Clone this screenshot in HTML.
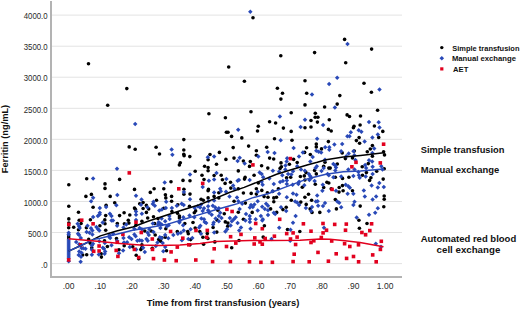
<!DOCTYPE html>
<html><head><meta charset="utf-8"><style>
html,body{margin:0;padding:0;background:#fff;overflow:hidden;}
svg{display:block;}
text{font-family:"Liberation Sans",sans-serif;fill:#1a1a1a;}
.tk{font-size:8.5px;fill:#2a2a2a;}
.yk{font-size:8.8px;}
.tt{font-size:9.8px;font-weight:bold;fill:#111;}
.lg{font-size:8.1px;font-weight:bold;fill:#111;}
</style></head><body>
<svg width="520" height="309" viewBox="0 0 520 309">
<rect x="52" y="263.1" width="350" height="1" fill="#e3e3e3"/>
<rect x="52" y="232" width="350" height="1" fill="#e3e3e3"/>
<rect x="52" y="201" width="350" height="1" fill="#e3e3e3"/>
<rect x="52" y="169.9" width="350" height="1" fill="#e3e3e3"/>
<rect x="52" y="138.8" width="350" height="1" fill="#e3e3e3"/>
<rect x="52" y="107.8" width="350" height="1" fill="#e3e3e3"/>
<rect x="52" y="76.7" width="350" height="1" fill="#e3e3e3"/>
<rect x="52" y="45.7" width="350" height="1" fill="#e3e3e3"/>
<rect x="52" y="14.6" width="350" height="1" fill="#e3e3e3"/>
<rect x="50" y="1" width="2" height="277" fill="#b3b3b3"/>
<rect x="50" y="276" width="352" height="2" fill="#b3b3b3"/>
<text x="47.6" y="267.8" class="tk yk" text-anchor="end" textLength="6.5" lengthAdjust="spacingAndGlyphs">.0</text>
<text x="47.6" y="236.7" class="tk yk" text-anchor="end" textLength="19.6" lengthAdjust="spacingAndGlyphs">500.0</text>
<text x="47.6" y="205.7" class="tk yk" text-anchor="end" textLength="23.9" lengthAdjust="spacingAndGlyphs">1000.0</text>
<text x="47.6" y="174.6" class="tk yk" text-anchor="end" textLength="23.9" lengthAdjust="spacingAndGlyphs">1500.0</text>
<text x="47.6" y="143.5" class="tk yk" text-anchor="end" textLength="23.9" lengthAdjust="spacingAndGlyphs">2000.0</text>
<text x="47.6" y="112.5" class="tk yk" text-anchor="end" textLength="23.9" lengthAdjust="spacingAndGlyphs">2500.0</text>
<text x="47.6" y="81.4" class="tk yk" text-anchor="end" textLength="23.9" lengthAdjust="spacingAndGlyphs">3000.0</text>
<text x="47.6" y="50.4" class="tk yk" text-anchor="end" textLength="23.9" lengthAdjust="spacingAndGlyphs">3500.0</text>
<text x="47.6" y="19.3" class="tk yk" text-anchor="end" textLength="23.9" lengthAdjust="spacingAndGlyphs">4000.0</text>
<text x="68.6" y="289" class="tk" text-anchor="middle">.00</text>
<text x="100.2" y="289" class="tk" text-anchor="middle">.10</text>
<text x="131.9" y="289" class="tk" text-anchor="middle">.20</text>
<text x="163.6" y="289" class="tk" text-anchor="middle">.30</text>
<text x="195.2" y="289" class="tk" text-anchor="middle">.40</text>
<text x="226.8" y="289" class="tk" text-anchor="middle">.50</text>
<text x="258.5" y="289" class="tk" text-anchor="middle">.60</text>
<text x="290.1" y="289" class="tk" text-anchor="middle">.70</text>
<text x="321.8" y="289" class="tk" text-anchor="middle">.80</text>
<text x="353.5" y="289" class="tk" text-anchor="middle">.90</text>
<text x="385.1" y="289" class="tk" text-anchor="middle">1.00</text>
<g fill="#000"><circle cx="253" cy="17.7" r="1.8"/><circle cx="280.8" cy="55.7" r="1.8"/><circle cx="314.6" cy="52.6" r="1.8"/><circle cx="344.6" cy="39.4" r="1.8"/><circle cx="371.6" cy="49.1" r="1.8"/><circle cx="88.5" cy="63.7" r="1.8"/><circle cx="126.8" cy="88.6" r="1.8"/><circle cx="107.7" cy="105.3" r="1.8"/><circle cx="228.7" cy="67" r="1.8"/><circle cx="244.4" cy="81.2" r="1.8"/><circle cx="208.9" cy="113.8" r="1.8"/><circle cx="251" cy="111.7" r="1.8"/><circle cx="305" cy="80.8" r="1.8"/><circle cx="277.4" cy="88.2" r="1.8"/><circle cx="282.5" cy="93.3" r="1.8"/><circle cx="280.9" cy="99.1" r="1.8"/><circle cx="306.7" cy="93.3" r="1.8"/><circle cx="339.8" cy="95.6" r="1.8"/><circle cx="305" cy="104.9" r="1.8"/><circle cx="324.6" cy="107" r="1.8"/><circle cx="337.2" cy="104.1" r="1.8"/><circle cx="291.2" cy="112.7" r="1.8"/><circle cx="315.3" cy="113.3" r="1.8"/><circle cx="345.7" cy="62.8" r="1.8"/><circle cx="364" cy="83.2" r="1.8"/><circle cx="371.4" cy="92.3" r="1.8"/><circle cx="377.6" cy="110.3" r="1.8"/><circle cx="129.2" cy="146.9" r="1.8"/><circle cx="183.8" cy="139.6" r="1.8"/><circle cx="135.2" cy="149.2" r="1.8"/><circle cx="156.1" cy="147.2" r="1.8"/><circle cx="159.5" cy="154" r="1.8"/><circle cx="183.8" cy="150" r="1.8"/><circle cx="183.8" cy="154.2" r="1.8"/><circle cx="184.1" cy="155.7" r="1.8"/><circle cx="189.8" cy="156.6" r="1.8"/><circle cx="225.4" cy="117.8" r="1.8"/><circle cx="269.6" cy="121.7" r="1.8"/><circle cx="275.6" cy="123" r="1.8"/><circle cx="258.3" cy="126.2" r="1.8"/><circle cx="257.5" cy="131" r="1.8"/><circle cx="226.4" cy="132.2" r="1.8"/><circle cx="228" cy="132.2" r="1.8"/><circle cx="231.6" cy="136.4" r="1.8"/><circle cx="241.8" cy="137.9" r="1.8"/><circle cx="274.5" cy="138.7" r="1.8"/><circle cx="233.2" cy="147.6" r="1.8"/><circle cx="248.6" cy="146.1" r="1.8"/><circle cx="256.4" cy="150.8" r="1.8"/><circle cx="266.7" cy="147.2" r="1.8"/><circle cx="219.4" cy="152.4" r="1.8"/><circle cx="210" cy="154.5" r="1.8"/><circle cx="256.4" cy="155.3" r="1.8"/><circle cx="234" cy="158.1" r="1.8"/><circle cx="269.6" cy="158.1" r="1.8"/><circle cx="225.9" cy="159.4" r="1.8"/><circle cx="273.7" cy="159" r="1.8"/><circle cx="315.2" cy="117.3" r="1.8"/><circle cx="317.9" cy="117.3" r="1.8"/><circle cx="347.1" cy="114.9" r="1.8"/><circle cx="349.5" cy="116.5" r="1.8"/><circle cx="311" cy="120.5" r="1.8"/><circle cx="317.4" cy="122.1" r="1.8"/><circle cx="329.3" cy="119.7" r="1.8"/><circle cx="283.4" cy="128.1" r="1.8"/><circle cx="305" cy="127.8" r="1.8"/><circle cx="311" cy="127" r="1.8"/><circle cx="291.2" cy="131.4" r="1.8"/><circle cx="328.4" cy="129.4" r="1.8"/><circle cx="331.2" cy="131" r="1.8"/><circle cx="354" cy="126.2" r="1.8"/><circle cx="292" cy="140.3" r="1.8"/><circle cx="328.4" cy="141.6" r="1.8"/><circle cx="316.3" cy="144" r="1.8"/><circle cx="316.3" cy="146.9" r="1.8"/><circle cx="306.6" cy="147.7" r="1.8"/><circle cx="321.5" cy="148.9" r="1.8"/><circle cx="304.6" cy="152.4" r="1.8"/><circle cx="342.2" cy="152.9" r="1.8"/><circle cx="310.3" cy="154.5" r="1.8"/><circle cx="293.6" cy="159.4" r="1.8"/><circle cx="345.4" cy="158.6" r="1.8"/><circle cx="360.5" cy="116" r="1.8"/><circle cx="360.1" cy="125" r="1.8"/><circle cx="353.4" cy="127.8" r="1.8"/><circle cx="374.4" cy="126" r="1.8"/><circle cx="382.8" cy="131.4" r="1.8"/><circle cx="378.7" cy="137.4" r="1.8"/><circle cx="359.1" cy="137.6" r="1.8"/><circle cx="356.4" cy="140.6" r="1.8"/><circle cx="359.6" cy="143.3" r="1.8"/><circle cx="372.4" cy="145.6" r="1.8"/><circle cx="370.3" cy="149" r="1.8"/><circle cx="367.3" cy="151.7" r="1.8"/><circle cx="383.6" cy="151.7" r="1.8"/><circle cx="384.5" cy="154.9" r="1.8"/><circle cx="372.4" cy="156.3" r="1.8"/><circle cx="354.3" cy="151" r="1.8"/><circle cx="352.5" cy="157.9" r="1.8"/><circle cx="86.7" cy="178.7" r="1.8"/><circle cx="68.8" cy="184.7" r="1.8"/><circle cx="105" cy="183.9" r="1.8"/><circle cx="105" cy="188.4" r="1.8"/><circle cx="119.6" cy="179.4" r="1.8"/><circle cx="154.1" cy="188.8" r="1.8"/><circle cx="134.5" cy="189.4" r="1.8"/><circle cx="163.8" cy="188.8" r="1.8"/><circle cx="180.3" cy="162.7" r="1.8"/><circle cx="179.4" cy="164.9" r="1.8"/><circle cx="208.1" cy="159.7" r="1.8"/><circle cx="216.5" cy="164.2" r="1.8"/><circle cx="204.6" cy="166.2" r="1.8"/><circle cx="208.1" cy="167.5" r="1.8"/><circle cx="208.1" cy="170.7" r="1.8"/><circle cx="195.2" cy="171.3" r="1.8"/><circle cx="202" cy="175.2" r="1.8"/><circle cx="214.1" cy="175.5" r="1.8"/><circle cx="204" cy="179.5" r="1.8"/><circle cx="183" cy="180.4" r="1.8"/><circle cx="190" cy="180.8" r="1.8"/><circle cx="171" cy="181.7" r="1.8"/><circle cx="208.5" cy="189.4" r="1.8"/><circle cx="183.9" cy="189.2" r="1.8"/><circle cx="243.4" cy="161" r="1.8"/><circle cx="250.3" cy="161.6" r="1.8"/><circle cx="249.5" cy="166.4" r="1.8"/><circle cx="261.6" cy="165.8" r="1.8"/><circle cx="267.8" cy="168.1" r="1.8"/><circle cx="238.3" cy="170.9" r="1.8"/><circle cx="221.2" cy="175.2" r="1.8"/><circle cx="222.4" cy="179.7" r="1.8"/><circle cx="225.1" cy="183.4" r="1.8"/><circle cx="230.5" cy="182.3" r="1.8"/><circle cx="245.1" cy="177.4" r="1.8"/><circle cx="244.5" cy="179.1" r="1.8"/><circle cx="254.1" cy="175.2" r="1.8"/><circle cx="258.3" cy="183" r="1.8"/><circle cx="230.8" cy="188.1" r="1.8"/><circle cx="238.3" cy="188.8" r="1.8"/><circle cx="256.4" cy="188.8" r="1.8"/><circle cx="281" cy="162.9" r="1.8"/><circle cx="289.4" cy="164.2" r="1.8"/><circle cx="297.2" cy="162.5" r="1.8"/><circle cx="325" cy="162.3" r="1.8"/><circle cx="281.4" cy="166.8" r="1.8"/><circle cx="280.1" cy="168.4" r="1.8"/><circle cx="323.7" cy="166.2" r="1.8"/><circle cx="314.6" cy="170.4" r="1.8"/><circle cx="306" cy="172.6" r="1.8"/><circle cx="316.3" cy="173.9" r="1.8"/><circle cx="286.6" cy="177.8" r="1.8"/><circle cx="290.7" cy="177.2" r="1.8"/><circle cx="300.4" cy="176.5" r="1.8"/><circle cx="304.3" cy="175.9" r="1.8"/><circle cx="304.9" cy="180" r="1.8"/><circle cx="315.3" cy="184.3" r="1.8"/><circle cx="326.9" cy="182.3" r="1.8"/><circle cx="328.8" cy="183" r="1.8"/><circle cx="302.3" cy="187.2" r="1.8"/><circle cx="323.7" cy="187.5" r="1.8"/><circle cx="328.8" cy="168.1" r="1.8"/><circle cx="278.4" cy="188.8" r="1.8"/><circle cx="337.3" cy="164" r="1.8"/><circle cx="330.2" cy="168.1" r="1.8"/><circle cx="362.2" cy="166.8" r="1.8"/><circle cx="368.3" cy="163.6" r="1.8"/><circle cx="384.2" cy="168.8" r="1.8"/><circle cx="335.3" cy="177.2" r="1.8"/><circle cx="342.5" cy="178.4" r="1.8"/><circle cx="348.9" cy="177.2" r="1.8"/><circle cx="362.5" cy="175.2" r="1.8"/><circle cx="366.4" cy="172.6" r="1.8"/><circle cx="376.7" cy="171.3" r="1.8"/><circle cx="370.9" cy="177.8" r="1.8"/><circle cx="369.6" cy="180.4" r="1.8"/><circle cx="383.2" cy="179.1" r="1.8"/><circle cx="342.5" cy="185.6" r="1.8"/><circle cx="339.2" cy="187.5" r="1.8"/><circle cx="331.2" cy="188.8" r="1.8"/><circle cx="85.9" cy="196.4" r="1.8"/><circle cx="91.4" cy="194.4" r="1.8"/><circle cx="110.2" cy="196.4" r="1.8"/><circle cx="68.8" cy="206.3" r="1.8"/><circle cx="93.1" cy="207.2" r="1.8"/><circle cx="106.1" cy="205.4" r="1.8"/><circle cx="78.5" cy="212.2" r="1.8"/><circle cx="105.7" cy="215.6" r="1.8"/><circle cx="68.8" cy="218.9" r="1.8"/><circle cx="68.8" cy="223.1" r="1.8"/><circle cx="79.2" cy="220.2" r="1.8"/><circle cx="81.1" cy="223.5" r="1.8"/><circle cx="90.4" cy="219.7" r="1.8"/><circle cx="104.8" cy="219.9" r="1.8"/><circle cx="105" cy="223.8" r="1.8"/><circle cx="150.3" cy="192.4" r="1.8"/><circle cx="114.7" cy="202.7" r="1.8"/><circle cx="139.7" cy="203.8" r="1.8"/><circle cx="143.1" cy="202.5" r="1.8"/><circle cx="146.4" cy="205.4" r="1.8"/><circle cx="148.7" cy="208.9" r="1.8"/><circle cx="156.5" cy="200.3" r="1.8"/><circle cx="134.5" cy="208" r="1.8"/><circle cx="135.4" cy="209.3" r="1.8"/><circle cx="143.1" cy="208.5" r="1.8"/><circle cx="146.4" cy="212.4" r="1.8"/><circle cx="163.8" cy="208.3" r="1.8"/><circle cx="124.1" cy="212.8" r="1.8"/><circle cx="119.6" cy="215.6" r="1.8"/><circle cx="129.8" cy="215" r="1.8"/><circle cx="147.7" cy="218" r="1.8"/><circle cx="153.5" cy="216.7" r="1.8"/><circle cx="128.3" cy="220.2" r="1.8"/><circle cx="141.9" cy="221.2" r="1.8"/><circle cx="117.3" cy="223.5" r="1.8"/><circle cx="124.4" cy="223.8" r="1.8"/><circle cx="128.9" cy="223.1" r="1.8"/><circle cx="158" cy="218.6" r="1.8"/><circle cx="183.9" cy="194.3" r="1.8"/><circle cx="190" cy="194.1" r="1.8"/><circle cx="165.4" cy="194.7" r="1.8"/><circle cx="165.8" cy="197.9" r="1.8"/><circle cx="171.6" cy="196.4" r="1.8"/><circle cx="171.6" cy="201.2" r="1.8"/><circle cx="208.1" cy="190.8" r="1.8"/><circle cx="218.8" cy="192.8" r="1.8"/><circle cx="208.1" cy="197.9" r="1.8"/><circle cx="201.1" cy="199.2" r="1.8"/><circle cx="203.3" cy="200.3" r="1.8"/><circle cx="214.1" cy="196.4" r="1.8"/><circle cx="218.8" cy="197.9" r="1.8"/><circle cx="177.8" cy="204.7" r="1.8"/><circle cx="189.5" cy="206.3" r="1.8"/><circle cx="171.9" cy="211.5" r="1.8"/><circle cx="195.6" cy="210.9" r="1.8"/><circle cx="177.5" cy="213.2" r="1.8"/><circle cx="179.4" cy="216" r="1.8"/><circle cx="179.4" cy="218" r="1.8"/><circle cx="194.3" cy="212.8" r="1.8"/><circle cx="193" cy="222.5" r="1.8"/><circle cx="216.9" cy="219.9" r="1.8"/><circle cx="243.4" cy="193" r="1.8"/><circle cx="251.2" cy="193.4" r="1.8"/><circle cx="256.4" cy="194.1" r="1.8"/><circle cx="261.8" cy="190.4" r="1.8"/><circle cx="267.4" cy="192.8" r="1.8"/><circle cx="264.1" cy="196.6" r="1.8"/><circle cx="268" cy="197.3" r="1.8"/><circle cx="273.8" cy="197.9" r="1.8"/><circle cx="273.8" cy="201.8" r="1.8"/><circle cx="234.1" cy="201.2" r="1.8"/><circle cx="245.4" cy="203.1" r="1.8"/><circle cx="270.6" cy="208.9" r="1.8"/><circle cx="217.8" cy="210.2" r="1.8"/><circle cx="224.3" cy="213.7" r="1.8"/><circle cx="238.3" cy="212.2" r="1.8"/><circle cx="252.2" cy="212.4" r="1.8"/><circle cx="243.4" cy="219.3" r="1.8"/><circle cx="225.3" cy="221.9" r="1.8"/><circle cx="227.9" cy="223.1" r="1.8"/><circle cx="272.8" cy="191.2" r="1.8"/><circle cx="276.5" cy="197.3" r="1.8"/><circle cx="291.3" cy="200.3" r="1.8"/><circle cx="308.5" cy="194.3" r="1.8"/><circle cx="304.9" cy="197.3" r="1.8"/><circle cx="300.8" cy="202.1" r="1.8"/><circle cx="306.2" cy="204.4" r="1.8"/><circle cx="311.6" cy="200.3" r="1.8"/><circle cx="310.1" cy="208.9" r="1.8"/><circle cx="312" cy="212.4" r="1.8"/><circle cx="319.8" cy="212.4" r="1.8"/><circle cx="282.9" cy="209.6" r="1.8"/><circle cx="286.2" cy="207.2" r="1.8"/><circle cx="276.7" cy="212.4" r="1.8"/><circle cx="339" cy="192.1" r="1.8"/><circle cx="343.1" cy="190.8" r="1.8"/><circle cx="352.5" cy="190.8" r="1.8"/><circle cx="384.2" cy="196" r="1.8"/><circle cx="384.2" cy="199.2" r="1.8"/><circle cx="335.3" cy="199.5" r="1.8"/><circle cx="360.2" cy="206.1" r="1.8"/><circle cx="336.4" cy="208.9" r="1.8"/><circle cx="383.8" cy="206.7" r="1.8"/><circle cx="358.9" cy="220.2" r="1.8"/><circle cx="367" cy="223.5" r="1.8"/><circle cx="68.7" cy="227.8" r="1.8"/><circle cx="68.7" cy="236" r="1.8"/><circle cx="68.7" cy="238" r="1.8"/><circle cx="73.7" cy="227.2" r="1.8"/><circle cx="78.5" cy="229.8" r="1.8"/><circle cx="86.4" cy="227.8" r="1.8"/><circle cx="99.9" cy="225.8" r="1.8"/><circle cx="105.7" cy="230.2" r="1.8"/><circle cx="88.7" cy="239.4" r="1.8"/><circle cx="90.1" cy="243.1" r="1.8"/><circle cx="91.8" cy="247.7" r="1.8"/><circle cx="104.5" cy="240.8" r="1.8"/><circle cx="107.4" cy="246.5" r="1.8"/><circle cx="82.7" cy="255" r="1.8"/><circle cx="86.7" cy="254.8" r="1.8"/><circle cx="101.2" cy="253.8" r="1.8"/><circle cx="101.4" cy="257.1" r="1.8"/><circle cx="119" cy="249.8" r="1.8"/><circle cx="124.2" cy="245.8" r="1.8"/><circle cx="135.9" cy="225.2" r="1.8"/><circle cx="144.8" cy="231" r="1.8"/><circle cx="151.2" cy="231" r="1.8"/><circle cx="154.6" cy="223.5" r="1.8"/><circle cx="155.2" cy="235" r="1.8"/><circle cx="158.7" cy="239.6" r="1.8"/><circle cx="116.5" cy="238.5" r="1.8"/><circle cx="141.9" cy="244.8" r="1.8"/><circle cx="152.3" cy="248.3" r="1.8"/><circle cx="132.7" cy="246.7" r="1.8"/><circle cx="136.2" cy="255.2" r="1.8"/><circle cx="138.7" cy="258.8" r="1.8"/><circle cx="140.8" cy="249.6" r="1.8"/><circle cx="141.7" cy="247.9" r="1.8"/><circle cx="165.8" cy="228.7" r="1.8"/><circle cx="184.8" cy="223.5" r="1.8"/><circle cx="195.2" cy="228.1" r="1.8"/><circle cx="199.8" cy="231.5" r="1.8"/><circle cx="202.9" cy="237.3" r="1.8"/><circle cx="207.3" cy="233.6" r="1.8"/><circle cx="207.9" cy="238.5" r="1.8"/><circle cx="213.1" cy="227.5" r="1.8"/><circle cx="216.8" cy="232.1" r="1.8"/><circle cx="177.3" cy="231.5" r="1.8"/><circle cx="187.7" cy="231.5" r="1.8"/><circle cx="188.3" cy="233.8" r="1.8"/><circle cx="161.7" cy="237.9" r="1.8"/><circle cx="165.2" cy="237.3" r="1.8"/><circle cx="190.6" cy="239.6" r="1.8"/><circle cx="160.6" cy="241.3" r="1.8"/><circle cx="190" cy="244.8" r="1.8"/><circle cx="203.6" cy="244.2" r="1.8"/><circle cx="214.8" cy="241.9" r="1.8"/><circle cx="227.7" cy="226.3" r="1.8"/><circle cx="264.4" cy="225.8" r="1.8"/><circle cx="239" cy="240.5" r="1.8"/><circle cx="231.7" cy="247.7" r="1.8"/><circle cx="263.2" cy="237.1" r="1.8"/><circle cx="287.5" cy="229.5" r="1.8"/><circle cx="299.8" cy="231.5" r="1.8"/><circle cx="359.4" cy="228.3" r="1.8"/><circle cx="166.5" cy="250.8" r="1.8"/></g>
<g fill="#2949b8"><path d="M250.3 9.6l2.25 2.25l-2.25 2.25l-2.25-2.25z"/><path d="M347.5 41.8l2.25 2.25l-2.25 2.25l-2.25-2.25z"/><path d="M337.2 75.5l2.25 2.25l-2.25 2.25l-2.25-2.25z"/><path d="M329.1 81.8l2.25 2.25l-2.25 2.25l-2.25-2.25z"/><path d="M312 92.2l2.25 2.25l-2.25 2.25l-2.25-2.25z"/><path d="M334.9 105.2l2.25 2.25l-2.25 2.25l-2.25-2.25z"/><path d="M379.5 87.3l2.25 2.25l-2.25 2.25l-2.25-2.25z"/><path d="M135.2 121.8l2.25 2.25l-2.25 2.25l-2.25-2.25z"/><path d="M171.6 147.2l2.25 2.25l-2.25 2.25l-2.25-2.25z"/><path d="M172.4 152.4l2.25 2.25l-2.25 2.25l-2.25-2.25z"/><path d="M238.2 127.6l2.25 2.25l-2.25 2.25l-2.25-2.25z"/><path d="M267.7 149.8l2.25 2.25l-2.25 2.25l-2.25-2.25z"/><path d="M274.5 150.7l2.25 2.25l-2.25 2.25l-2.25-2.25z"/><path d="M207.8 155.1l2.25 2.25l-2.25 2.25l-2.25-2.25z"/><path d="M214.1 154.3l2.25 2.25l-2.25 2.25l-2.25-2.25z"/><path d="M258.3 154.3l2.25 2.25l-2.25 2.25l-2.25-2.25z"/><path d="M239.7 155.6l2.25 2.25l-2.25 2.25l-2.25-2.25z"/><path d="M279.9 114.2l2.25 2.25l-2.25 2.25l-2.25-2.25z"/><path d="M305 117.5l2.25 2.25l-2.25 2.25l-2.25-2.25z"/><path d="M323.1 122.7l2.25 2.25l-2.25 2.25l-2.25-2.25z"/><path d="M300.6 124.8l2.25 2.25l-2.25 2.25l-2.25-2.25z"/><path d="M350.8 130.1l2.25 2.25l-2.25 2.25l-2.25-2.25z"/><path d="M347.4 133.9l2.25 2.25l-2.25 2.25l-2.25-2.25z"/><path d="M349.5 133.9l2.25 2.25l-2.25 2.25l-2.25-2.25z"/><path d="M280.7 138.1l2.25 2.25l-2.25 2.25l-2.25-2.25z"/><path d="M317.1 136.4l2.25 2.25l-2.25 2.25l-2.25-2.25z"/><path d="M334.4 142.2l2.25 2.25l-2.25 2.25l-2.25-2.25z"/><path d="M342.2 141.8l2.25 2.25l-2.25 2.25l-2.25-2.25z"/><path d="M293.6 145.8l2.25 2.25l-2.25 2.25l-2.25-2.25z"/><path d="M325.2 144.9l2.25 2.25l-2.25 2.25l-2.25-2.25z"/><path d="M329.3 144.9l2.25 2.25l-2.25 2.25l-2.25-2.25z"/><path d="M329.3 147.4l2.25 2.25l-2.25 2.25l-2.25-2.25z"/><path d="M316.3 148.6l2.25 2.25l-2.25 2.25l-2.25-2.25z"/><path d="M318.7 149.6l2.25 2.25l-2.25 2.25l-2.25-2.25z"/><path d="M321.2 150.3l2.25 2.25l-2.25 2.25l-2.25-2.25z"/><path d="M302.9 150.2l2.25 2.25l-2.25 2.25l-2.25-2.25z"/><path d="M341.1 149.1l2.25 2.25l-2.25 2.25l-2.25-2.25z"/><path d="M348.7 151.2l2.25 2.25l-2.25 2.25l-2.25-2.25z"/><path d="M353.5 149.1l2.25 2.25l-2.25 2.25l-2.25-2.25z"/><path d="M299 154.2l2.25 2.25l-2.25 2.25l-2.25-2.25z"/><path d="M312.7 154.8l2.25 2.25l-2.25 2.25l-2.25-2.25z"/><path d="M287.1 156.1l2.25 2.25l-2.25 2.25l-2.25-2.25z"/><path d="M346.3 153.9l2.25 2.25l-2.25 2.25l-2.25-2.25z"/><path d="M354.4 153.1l2.25 2.25l-2.25 2.25l-2.25-2.25z"/><path d="M369 119.7l2.25 2.25l-2.25 2.25l-2.25-2.25z"/><path d="M378.7 120l2.25 2.25l-2.25 2.25l-2.25-2.25z"/><path d="M379.5 125.3l2.25 2.25l-2.25 2.25l-2.25-2.25z"/><path d="M358.7 128.1l2.25 2.25l-2.25 2.25l-2.25-2.25z"/><path d="M361.4 129.4l2.25 2.25l-2.25 2.25l-2.25-2.25z"/><path d="M377.8 132.2l2.25 2.25l-2.25 2.25l-2.25-2.25z"/><path d="M372.4 135.3l2.25 2.25l-2.25 2.25l-2.25-2.25z"/><path d="M364.6 139.2l2.25 2.25l-2.25 2.25l-2.25-2.25z"/><path d="M374.2 146.3l2.25 2.25l-2.25 2.25l-2.25-2.25z"/><path d="M372.4 150.8l2.25 2.25l-2.25 2.25l-2.25-2.25z"/><path d="M93.1 176.2l2.25 2.25l-2.25 2.25l-2.25-2.25z"/><path d="M117 166.6l2.25 2.25l-2.25 2.25l-2.25-2.25z"/><path d="M164.7 180.3l2.25 2.25l-2.25 2.25l-2.25-2.25z"/><path d="M190 172.3l2.25 2.25l-2.25 2.25l-2.25-2.25z"/><path d="M216.5 170.8l2.25 2.25l-2.25 2.25l-2.25-2.25z"/><path d="M214.1 177.2l2.25 2.25l-2.25 2.25l-2.25-2.25z"/><path d="M208.9 178.6l2.25 2.25l-2.25 2.25l-2.25-2.25z"/><path d="M202.7 184.8l2.25 2.25l-2.25 2.25l-2.25-2.25z"/><path d="M237.6 158.8l2.25 2.25l-2.25 2.25l-2.25-2.25z"/><path d="M244.7 161.3l2.25 2.25l-2.25 2.25l-2.25-2.25z"/><path d="M272.9 168.4l2.25 2.25l-2.25 2.25l-2.25-2.25z"/><path d="M226.4 176.8l2.25 2.25l-2.25 2.25l-2.25-2.25z"/><path d="M238.9 177.8l2.25 2.25l-2.25 2.25l-2.25-2.25z"/><path d="M237.6 178.6l2.25 2.25l-2.25 2.25l-2.25-2.25z"/><path d="M249.7 177.8l2.25 2.25l-2.25 2.25l-2.25-2.25z"/><path d="M259.6 170.3l2.25 2.25l-2.25 2.25l-2.25-2.25z"/><path d="M261.6 171.7l2.25 2.25l-2.25 2.25l-2.25-2.25z"/><path d="M263.2 174.9l2.25 2.25l-2.25 2.25l-2.25-2.25z"/><path d="M269.3 176.2l2.25 2.25l-2.25 2.25l-2.25-2.25z"/><path d="M261.6 179.4l2.25 2.25l-2.25 2.25l-2.25-2.25z"/><path d="M262.6 182.4l2.25 2.25l-2.25 2.25l-2.25-2.25z"/><path d="M273.8 181.7l2.25 2.25l-2.25 2.25l-2.25-2.25z"/><path d="M233.1 183.3l2.25 2.25l-2.25 2.25l-2.25-2.25z"/><path d="M234.4 186.6l2.25 2.25l-2.25 2.25l-2.25-2.25z"/><path d="M220.2 186.6l2.25 2.25l-2.25 2.25l-2.25-2.25z"/><path d="M286.6 159.2l2.25 2.25l-2.25 2.25l-2.25-2.25z"/><path d="M310.3 159.3l2.25 2.25l-2.25 2.25l-2.25-2.25z"/><path d="M325 157.4l2.25 2.25l-2.25 2.25l-2.25-2.25z"/><path d="M285.5 163.2l2.25 2.25l-2.25 2.25l-2.25-2.25z"/><path d="M297.2 163.9l2.25 2.25l-2.25 2.25l-2.25-2.25z"/><path d="M285.3 167.2l2.25 2.25l-2.25 2.25l-2.25-2.25z"/><path d="M316.8 163.9l2.25 2.25l-2.25 2.25l-2.25-2.25z"/><path d="M315.5 165.8l2.25 2.25l-2.25 2.25l-2.25-2.25z"/><path d="M323.7 165.8l2.25 2.25l-2.25 2.25l-2.25-2.25z"/><path d="M321.5 168.7l2.25 2.25l-2.25 2.25l-2.25-2.25z"/><path d="M279.1 169.4l2.25 2.25l-2.25 2.25l-2.25-2.25z"/><path d="M301 167.2l2.25 2.25l-2.25 2.25l-2.25-2.25z"/><path d="M304.9 168.4l2.25 2.25l-2.25 2.25l-2.25-2.25z"/><path d="M293 169.1l2.25 2.25l-2.25 2.25l-2.25-2.25z"/><path d="M288.1 171.7l2.25 2.25l-2.25 2.25l-2.25-2.25z"/><path d="M291.3 172.3l2.25 2.25l-2.25 2.25l-2.25-2.25z"/><path d="M282.3 172.9l2.25 2.25l-2.25 2.25l-2.25-2.25z"/><path d="M308.8 171.7l2.25 2.25l-2.25 2.25l-2.25-2.25z"/><path d="M310.1 173.7l2.25 2.25l-2.25 2.25l-2.25-2.25z"/><path d="M311.4 175.6l2.25 2.25l-2.25 2.25l-2.25-2.25z"/><path d="M309.4 177.8l2.25 2.25l-2.25 2.25l-2.25-2.25z"/><path d="M286.8 178.2l2.25 2.25l-2.25 2.25l-2.25-2.25z"/><path d="M282.9 178.8l2.25 2.25l-2.25 2.25l-2.25-2.25z"/><path d="M280.1 179.8l2.25 2.25l-2.25 2.25l-2.25-2.25z"/><path d="M299.1 179.4l2.25 2.25l-2.25 2.25l-2.25-2.25z"/><path d="M314.6 178.8l2.25 2.25l-2.25 2.25l-2.25-2.25z"/><path d="M286.8 181.7l2.25 2.25l-2.25 2.25l-2.25-2.25z"/><path d="M292.6 182.4l2.25 2.25l-2.25 2.25l-2.25-2.25z"/><path d="M298.4 181.7l2.25 2.25l-2.25 2.25l-2.25-2.25z"/><path d="M304.3 182.9l2.25 2.25l-2.25 2.25l-2.25-2.25z"/><path d="M322.8 182.4l2.25 2.25l-2.25 2.25l-2.25-2.25z"/><path d="M328.8 172.9l2.25 2.25l-2.25 2.25l-2.25-2.25z"/><path d="M355.4 157.8l2.25 2.25l-2.25 2.25l-2.25-2.25z"/><path d="M333.4 161.8l2.25 2.25l-2.25 2.25l-2.25-2.25z"/><path d="M335.3 163.2l2.25 2.25l-2.25 2.25l-2.25-2.25z"/><path d="M336 165.2l2.25 2.25l-2.25 2.25l-2.25-2.25z"/><path d="M335.3 168.2l2.25 2.25l-2.25 2.25l-2.25-2.25z"/><path d="M348.3 167.2l2.25 2.25l-2.25 2.25l-2.25-2.25z"/><path d="M354.5 167.2l2.25 2.25l-2.25 2.25l-2.25-2.25z"/><path d="M365.1 162.7l2.25 2.25l-2.25 2.25l-2.25-2.25z"/><path d="M369 158.1l2.25 2.25l-2.25 2.25l-2.25-2.25z"/><path d="M372.2 159.3l2.25 2.25l-2.25 2.25l-2.25-2.25z"/><path d="M372.6 164.6l2.25 2.25l-2.25 2.25l-2.25-2.25z"/><path d="M366.1 165.8l2.25 2.25l-2.25 2.25l-2.25-2.25z"/><path d="M381.3 163.9l2.25 2.25l-2.25 2.25l-2.25-2.25z"/><path d="M382.5 167.2l2.25 2.25l-2.25 2.25l-2.25-2.25z"/><path d="M327.6 171.7l2.25 2.25l-2.25 2.25l-2.25-2.25z"/><path d="M333.4 174.9l2.25 2.25l-2.25 2.25l-2.25-2.25z"/><path d="M341.2 174.2l2.25 2.25l-2.25 2.25l-2.25-2.25z"/><path d="M353.4 173.8l2.25 2.25l-2.25 2.25l-2.25-2.25z"/><path d="M358.4 169.8l2.25 2.25l-2.25 2.25l-2.25-2.25z"/><path d="M358.9 172.9l2.25 2.25l-2.25 2.25l-2.25-2.25z"/><path d="M359.7 175.6l2.25 2.25l-2.25 2.25l-2.25-2.25z"/><path d="M365.7 174.2l2.25 2.25l-2.25 2.25l-2.25-2.25z"/><path d="M372.6 171.7l2.25 2.25l-2.25 2.25l-2.25-2.25z"/><path d="M379.3 180.8l2.25 2.25l-2.25 2.25l-2.25-2.25z"/><path d="M371.6 183.3l2.25 2.25l-2.25 2.25l-2.25-2.25z"/><path d="M377.8 185.2l2.25 2.25l-2.25 2.25l-2.25-2.25z"/><path d="M345.7 182.4l2.25 2.25l-2.25 2.25l-2.25-2.25z"/><path d="M348.3 183.9l2.25 2.25l-2.25 2.25l-2.25-2.25z"/><path d="M349.8 185.6l2.25 2.25l-2.25 2.25l-2.25-2.25z"/><path d="M93.1 195.4l2.25 2.25l-2.25 2.25l-2.25-2.25z"/><path d="M91.1 198.9l2.25 2.25l-2.25 2.25l-2.25-2.25z"/><path d="M99.8 205.8l2.25 2.25l-2.25 2.25l-2.25-2.25z"/><path d="M106.1 204.8l2.25 2.25l-2.25 2.25l-2.25-2.25z"/><path d="M99.8 210.6l2.25 2.25l-2.25 2.25l-2.25-2.25z"/><path d="M99.6 212.2l2.25 2.25l-2.25 2.25l-2.25-2.25z"/><path d="M97.9 213.8l2.25 2.25l-2.25 2.25l-2.25-2.25z"/><path d="M93.1 214.8l2.25 2.25l-2.25 2.25l-2.25-2.25z"/><path d="M109.9 211.4l2.25 2.25l-2.25 2.25l-2.25-2.25z"/><path d="M111.5 213.8l2.25 2.25l-2.25 2.25l-2.25-2.25z"/><path d="M77.6 221.6l2.25 2.25l-2.25 2.25l-2.25-2.25z"/><path d="M102.7 220.2l2.25 2.25l-2.25 2.25l-2.25-2.25z"/><path d="M111.5 218.3l2.25 2.25l-2.25 2.25l-2.25-2.25z"/><path d="M117.3 192.8l2.25 2.25l-2.25 2.25l-2.25-2.25z"/><path d="M136 193.4l2.25 2.25l-2.25 2.25l-2.25-2.25z"/><path d="M141.5 197.2l2.25 2.25l-2.25 2.25l-2.25-2.25z"/><path d="M116.4 203.1l2.25 2.25l-2.25 2.25l-2.25-2.25z"/><path d="M141 202.4l2.25 2.25l-2.25 2.25l-2.25-2.25z"/><path d="M147.4 204.9l2.25 2.25l-2.25 2.25l-2.25-2.25z"/><path d="M153.5 199.6l2.25 2.25l-2.25 2.25l-2.25-2.25z"/><path d="M152.8 201.8l2.25 2.25l-2.25 2.25l-2.25-2.25z"/><path d="M154.8 203.4l2.25 2.25l-2.25 2.25l-2.25-2.25z"/><path d="M136 209.2l2.25 2.25l-2.25 2.25l-2.25-2.25z"/><path d="M136 212.4l2.25 2.25l-2.25 2.25l-2.25-2.25z"/><path d="M141.9 211.4l2.25 2.25l-2.25 2.25l-2.25-2.25z"/><path d="M159.3 208.3l2.25 2.25l-2.25 2.25l-2.25-2.25z"/><path d="M161.9 207.3l2.25 2.25l-2.25 2.25l-2.25-2.25z"/><path d="M136 217.7l2.25 2.25l-2.25 2.25l-2.25-2.25z"/><path d="M113 218.3l2.25 2.25l-2.25 2.25l-2.25-2.25z"/><path d="M152.8 221.2l2.25 2.25l-2.25 2.25l-2.25-2.25z"/><path d="M160 221.2l2.25 2.25l-2.25 2.25l-2.25-2.25z"/><path d="M183.9 189.8l2.25 2.25l-2.25 2.25l-2.25-2.25z"/><path d="M166.2 199.6l2.25 2.25l-2.25 2.25l-2.25-2.25z"/><path d="M190 196.9l2.25 2.25l-2.25 2.25l-2.25-2.25z"/><path d="M214.1 190.2l2.25 2.25l-2.25 2.25l-2.25-2.25z"/><path d="M208.5 198.9l2.25 2.25l-2.25 2.25l-2.25-2.25z"/><path d="M214.1 198.2l2.25 2.25l-2.25 2.25l-2.25-2.25z"/><path d="M181.7 201.6l2.25 2.25l-2.25 2.25l-2.25-2.25z"/><path d="M183.7 202.8l2.25 2.25l-2.25 2.25l-2.25-2.25z"/><path d="M176.8 203.4l2.25 2.25l-2.25 2.25l-2.25-2.25z"/><path d="M165.8 205.8l2.25 2.25l-2.25 2.25l-2.25-2.25z"/><path d="M171.9 205.8l2.25 2.25l-2.25 2.25l-2.25-2.25z"/><path d="M194.7 205.8l2.25 2.25l-2.25 2.25l-2.25-2.25z"/><path d="M197.9 204.1l2.25 2.25l-2.25 2.25l-2.25-2.25z"/><path d="M201.1 202.2l2.25 2.25l-2.25 2.25l-2.25-2.25z"/><path d="M200.1 205.3l2.25 2.25l-2.25 2.25l-2.25-2.25z"/><path d="M204 206.1l2.25 2.25l-2.25 2.25l-2.25-2.25z"/><path d="M202.7 208.7l2.25 2.25l-2.25 2.25l-2.25-2.25z"/><path d="M208.1 204.1l2.25 2.25l-2.25 2.25l-2.25-2.25z"/><path d="M208.1 207.9l2.25 2.25l-2.25 2.25l-2.25-2.25z"/><path d="M212.8 203.4l2.25 2.25l-2.25 2.25l-2.25-2.25z"/><path d="M215.3 205.3l2.25 2.25l-2.25 2.25l-2.25-2.25z"/><path d="M218.8 206.1l2.25 2.25l-2.25 2.25l-2.25-2.25z"/><path d="M209.1 210.6l2.25 2.25l-2.25 2.25l-2.25-2.25z"/><path d="M211.7 212.4l2.25 2.25l-2.25 2.25l-2.25-2.25z"/><path d="M169.3 213.8l2.25 2.25l-2.25 2.25l-2.25-2.25z"/><path d="M169.7 216.7l2.25 2.25l-2.25 2.25l-2.25-2.25z"/><path d="M189.5 213.2l2.25 2.25l-2.25 2.25l-2.25-2.25z"/><path d="M194.3 215.1l2.25 2.25l-2.25 2.25l-2.25-2.25z"/><path d="M183.3 215.1l2.25 2.25l-2.25 2.25l-2.25-2.25z"/><path d="M161.6 216.3l2.25 2.25l-2.25 2.25l-2.25-2.25z"/><path d="M165.2 218.9l2.25 2.25l-2.25 2.25l-2.25-2.25z"/><path d="M179.4 220.2l2.25 2.25l-2.25 2.25l-2.25-2.25z"/><path d="M201.4 216.3l2.25 2.25l-2.25 2.25l-2.25-2.25z"/><path d="M204.6 219.7l2.25 2.25l-2.25 2.25l-2.25-2.25z"/><path d="M204 217.1l2.25 2.25l-2.25 2.25l-2.25-2.25z"/><path d="M215.6 216.3l2.25 2.25l-2.25 2.25l-2.25-2.25z"/><path d="M218.8 218.9l2.25 2.25l-2.25 2.25l-2.25-2.25z"/><path d="M213.7 220.2l2.25 2.25l-2.25 2.25l-2.25-2.25z"/><path d="M220.8 188.9l2.25 2.25l-2.25 2.25l-2.25-2.25z"/><path d="M226 189.4l2.25 2.25l-2.25 2.25l-2.25-2.25z"/><path d="M257.7 189.4l2.25 2.25l-2.25 2.25l-2.25-2.25z"/><path d="M272.5 188.9l2.25 2.25l-2.25 2.25l-2.25-2.25z"/><path d="M229.5 194.3l2.25 2.25l-2.25 2.25l-2.25-2.25z"/><path d="M237 195.2l2.25 2.25l-2.25 2.25l-2.25-2.25z"/><path d="M238.3 198.9l2.25 2.25l-2.25 2.25l-2.25-2.25z"/><path d="M242.2 201.6l2.25 2.25l-2.25 2.25l-2.25-2.25z"/><path d="M257.7 198.9l2.25 2.25l-2.25 2.25l-2.25-2.25z"/><path d="M251 202.8l2.25 2.25l-2.25 2.25l-2.25-2.25z"/><path d="M254.4 202.2l2.25 2.25l-2.25 2.25l-2.25-2.25z"/><path d="M249.9 205.3l2.25 2.25l-2.25 2.25l-2.25-2.25z"/><path d="M252.8 204.8l2.25 2.25l-2.25 2.25l-2.25-2.25z"/><path d="M266.1 201.6l2.25 2.25l-2.25 2.25l-2.25-2.25z"/><path d="M268 203.4l2.25 2.25l-2.25 2.25l-2.25-2.25z"/><path d="M262.2 204.4l2.25 2.25l-2.25 2.25l-2.25-2.25z"/><path d="M264.8 206.7l2.25 2.25l-2.25 2.25l-2.25-2.25z"/><path d="M268 207.9l2.25 2.25l-2.25 2.25l-2.25-2.25z"/><path d="M273.8 210.6l2.25 2.25l-2.25 2.25l-2.25-2.25z"/><path d="M268 212.8l2.25 2.25l-2.25 2.25l-2.25-2.25z"/><path d="M220.2 210.6l2.25 2.25l-2.25 2.25l-2.25-2.25z"/><path d="M239.6 206.7l2.25 2.25l-2.25 2.25l-2.25-2.25z"/><path d="M257.7 208.3l2.25 2.25l-2.25 2.25l-2.25-2.25z"/><path d="M246 211.8l2.25 2.25l-2.25 2.25l-2.25-2.25z"/><path d="M249.7 213.8l2.25 2.25l-2.25 2.25l-2.25-2.25z"/><path d="M249.9 216.7l2.25 2.25l-2.25 2.25l-2.25-2.25z"/><path d="M260.9 213.8l2.25 2.25l-2.25 2.25l-2.25-2.25z"/><path d="M262.8 217.1l2.25 2.25l-2.25 2.25l-2.25-2.25z"/><path d="M255.7 217.1l2.25 2.25l-2.25 2.25l-2.25-2.25z"/><path d="M218.9 213.8l2.25 2.25l-2.25 2.25l-2.25-2.25z"/><path d="M221.5 215.8l2.25 2.25l-2.25 2.25l-2.25-2.25z"/><path d="M229.9 215.8l2.25 2.25l-2.25 2.25l-2.25-2.25z"/><path d="M235.7 215.1l2.25 2.25l-2.25 2.25l-2.25-2.25z"/><path d="M233.8 217.1l2.25 2.25l-2.25 2.25l-2.25-2.25z"/><path d="M231.8 218.9l2.25 2.25l-2.25 2.25l-2.25-2.25z"/><path d="M245.4 218.3l2.25 2.25l-2.25 2.25l-2.25-2.25z"/><path d="M249.9 219.7l2.25 2.25l-2.25 2.25l-2.25-2.25z"/><path d="M237.6 220.8l2.25 2.25l-2.25 2.25l-2.25-2.25z"/><path d="M279.1 191.6l2.25 2.25l-2.25 2.25l-2.25-2.25z"/><path d="M286.8 195.1l2.25 2.25l-2.25 2.25l-2.25-2.25z"/><path d="M293 191.2l2.25 2.25l-2.25 2.25l-2.25-2.25z"/><path d="M296.5 192.4l2.25 2.25l-2.25 2.25l-2.25-2.25z"/><path d="M295.2 199.3l2.25 2.25l-2.25 2.25l-2.25-2.25z"/><path d="M297.2 200.2l2.25 2.25l-2.25 2.25l-2.25-2.25z"/><path d="M299.1 202.8l2.25 2.25l-2.25 2.25l-2.25-2.25z"/><path d="M317.2 193.3l2.25 2.25l-2.25 2.25l-2.25-2.25z"/><path d="M322.4 188.6l2.25 2.25l-2.25 2.25l-2.25-2.25z"/><path d="M315.9 199.3l2.25 2.25l-2.25 2.25l-2.25-2.25z"/><path d="M317.6 198.9l2.25 2.25l-2.25 2.25l-2.25-2.25z"/><path d="M318.1 203.4l2.25 2.25l-2.25 2.25l-2.25-2.25z"/><path d="M312 204.8l2.25 2.25l-2.25 2.25l-2.25-2.25z"/><path d="M305.9 205.8l2.25 2.25l-2.25 2.25l-2.25-2.25z"/><path d="M311.1 208.7l2.25 2.25l-2.25 2.25l-2.25-2.25z"/><path d="M323 203.7l2.25 2.25l-2.25 2.25l-2.25-2.25z"/><path d="M325 200.8l2.25 2.25l-2.25 2.25l-2.25-2.25z"/><path d="M328.8 208.7l2.25 2.25l-2.25 2.25l-2.25-2.25z"/><path d="M281 204.9l2.25 2.25l-2.25 2.25l-2.25-2.25z"/><path d="M286.2 208.7l2.25 2.25l-2.25 2.25l-2.25-2.25z"/><path d="M275.2 211.8l2.25 2.25l-2.25 2.25l-2.25-2.25z"/><path d="M295.6 213.8l2.25 2.25l-2.25 2.25l-2.25-2.25z"/><path d="M293 220.6l2.25 2.25l-2.25 2.25l-2.25-2.25z"/><path d="M336 188.6l2.25 2.25l-2.25 2.25l-2.25-2.25z"/><path d="M347.6 191.6l2.25 2.25l-2.25 2.25l-2.25-2.25z"/><path d="M353.4 191.6l2.25 2.25l-2.25 2.25l-2.25-2.25z"/><path d="M363.8 188.2l2.25 2.25l-2.25 2.25l-2.25-2.25z"/><path d="M364.8 194.3l2.25 2.25l-2.25 2.25l-2.25-2.25z"/><path d="M383.8 184.7l2.25 2.25l-2.25 2.25l-2.25-2.25z"/><path d="M376.1 194.2l2.25 2.25l-2.25 2.25l-2.25-2.25z"/><path d="M372.6 197.2l2.25 2.25l-2.25 2.25l-2.25-2.25z"/><path d="M337.3 199.3l2.25 2.25l-2.25 2.25l-2.25-2.25z"/><path d="M339.2 200.6l2.25 2.25l-2.25 2.25l-2.25-2.25z"/><path d="M354.5 199.6l2.25 2.25l-2.25 2.25l-2.25-2.25z"/><path d="M353.4 202.8l2.25 2.25l-2.25 2.25l-2.25-2.25z"/><path d="M341.2 204.9l2.25 2.25l-2.25 2.25l-2.25-2.25z"/><path d="M377.8 206.1l2.25 2.25l-2.25 2.25l-2.25-2.25z"/><path d="M375.2 210.6l2.25 2.25l-2.25 2.25l-2.25-2.25z"/><path d="M369 212.4l2.25 2.25l-2.25 2.25l-2.25-2.25z"/><path d="M356.7 215.3l2.25 2.25l-2.25 2.25l-2.25-2.25z"/><path d="M68.7 230.6l2.25 2.25l-2.25 2.25l-2.25-2.25z"/><path d="M68.7 232.2l2.25 2.25l-2.25 2.25l-2.25-2.25z"/><path d="M68.7 237.8l2.25 2.25l-2.25 2.25l-2.25-2.25z"/><path d="M68.7 239.8l2.25 2.25l-2.25 2.25l-2.25-2.25z"/><path d="M68.7 241.8l2.25 2.25l-2.25 2.25l-2.25-2.25z"/><path d="M68.7 243.8l2.25 2.25l-2.25 2.25l-2.25-2.25z"/><path d="M68.7 245.8l2.25 2.25l-2.25 2.25l-2.25-2.25z"/><path d="M68.7 247.8l2.25 2.25l-2.25 2.25l-2.25-2.25z"/><path d="M68.7 249.8l2.25 2.25l-2.25 2.25l-2.25-2.25z"/><path d="M68.7 251.8l2.25 2.25l-2.25 2.25l-2.25-2.25z"/><path d="M68.7 253.8l2.25 2.25l-2.25 2.25l-2.25-2.25z"/><path d="M68.7 255.8l2.25 2.25l-2.25 2.25l-2.25-2.25z"/><path d="M68.7 259.1l2.25 2.25l-2.25 2.25l-2.25-2.25z"/><path d="M79.1 224.1l2.25 2.25l-2.25 2.25l-2.25-2.25z"/><path d="M79.7 225.8l2.25 2.25l-2.25 2.25l-2.25-2.25z"/><path d="M87.5 223.6l2.25 2.25l-2.25 2.25l-2.25-2.25z"/><path d="M91 226.1l2.25 2.25l-2.25 2.25l-2.25-2.25z"/><path d="M92.4 228.2l2.25 2.25l-2.25 2.25l-2.25-2.25z"/><path d="M86.6 229.8l2.25 2.25l-2.25 2.25l-2.25-2.25z"/><path d="M89.5 230.4l2.25 2.25l-2.25 2.25l-2.25-2.25z"/><path d="M92.4 232.2l2.25 2.25l-2.25 2.25l-2.25-2.25z"/><path d="M96.4 224.7l2.25 2.25l-2.25 2.25l-2.25-2.25z"/><path d="M97.9 226.8l2.25 2.25l-2.25 2.25l-2.25-2.25z"/><path d="M99.3 228.2l2.25 2.25l-2.25 2.25l-2.25-2.25z"/><path d="M78 231.6l2.25 2.25l-2.25 2.25l-2.25-2.25z"/><path d="M79.1 232.8l2.25 2.25l-2.25 2.25l-2.25-2.25z"/><path d="M80.8 235.7l2.25 2.25l-2.25 2.25l-2.25-2.25z"/><path d="M76.2 239.7l2.25 2.25l-2.25 2.25l-2.25-2.25z"/><path d="M79.1 241.9l2.25 2.25l-2.25 2.25l-2.25-2.25z"/><path d="M93 241.4l2.25 2.25l-2.25 2.25l-2.25-2.25z"/><path d="M91.8 243.2l2.25 2.25l-2.25 2.25l-2.25-2.25z"/><path d="M99.3 239.1l2.25 2.25l-2.25 2.25l-2.25-2.25z"/><path d="M104.8 240.8l2.25 2.25l-2.25 2.25l-2.25-2.25z"/><path d="M102.8 245.4l2.25 2.25l-2.25 2.25l-2.25-2.25z"/><path d="M83.2 246.1l2.25 2.25l-2.25 2.25l-2.25-2.25z"/><path d="M85.5 246.6l2.25 2.25l-2.25 2.25l-2.25-2.25z"/><path d="M109.1 234.4l2.25 2.25l-2.25 2.25l-2.25-2.25z"/><path d="M81.5 245.8l2.25 2.25l-2.25 2.25l-2.25-2.25z"/><path d="M79.2 249.2l2.25 2.25l-2.25 2.25l-2.25-2.25z"/><path d="M81.5 250.4l2.25 2.25l-2.25 2.25l-2.25-2.25z"/><path d="M78.7 252.8l2.25 2.25l-2.25 2.25l-2.25-2.25z"/><path d="M81 254.4l2.25 2.25l-2.25 2.25l-2.25-2.25z"/><path d="M80.6 259.6l2.25 2.25l-2.25 2.25l-2.25-2.25z"/><path d="M91.9 247.6l2.25 2.25l-2.25 2.25l-2.25-2.25z"/><path d="M91.9 252.6l2.25 2.25l-2.25 2.25l-2.25-2.25z"/><path d="M98.8 252.2l2.25 2.25l-2.25 2.25l-2.25-2.25z"/><path d="M104.6 251.6l2.25 2.25l-2.25 2.25l-2.25-2.25z"/><path d="M104 246.4l2.25 2.25l-2.25 2.25l-2.25-2.25z"/><path d="M105.2 249.2l2.25 2.25l-2.25 2.25l-2.25-2.25z"/><path d="M111.5 242.9l2.25 2.25l-2.25 2.25l-2.25-2.25z"/><path d="M119 251.1l2.25 2.25l-2.25 2.25l-2.25-2.25z"/><path d="M123.1 248.3l2.25 2.25l-2.25 2.25l-2.25-2.25z"/><path d="M127.1 240.1l2.25 2.25l-2.25 2.25l-2.25-2.25z"/><path d="M117.1 223.6l2.25 2.25l-2.25 2.25l-2.25-2.25z"/><path d="M126.3 222.3l2.25 2.25l-2.25 2.25l-2.25-2.25z"/><path d="M123.5 225.2l2.25 2.25l-2.25 2.25l-2.25-2.25z"/><path d="M134.4 226.4l2.25 2.25l-2.25 2.25l-2.25-2.25z"/><path d="M139.6 225.8l2.25 2.25l-2.25 2.25l-2.25-2.25z"/><path d="M141.9 226.9l2.25 2.25l-2.25 2.25l-2.25-2.25z"/><path d="M149.4 226.9l2.25 2.25l-2.25 2.25l-2.25-2.25z"/><path d="M153.5 229.8l2.25 2.25l-2.25 2.25l-2.25-2.25z"/><path d="M158.1 222.3l2.25 2.25l-2.25 2.25l-2.25-2.25z"/><path d="M160.4 225.8l2.25 2.25l-2.25 2.25l-2.25-2.25z"/><path d="M158.7 220.1l2.25 2.25l-2.25 2.25l-2.25-2.25z"/><path d="M109.6 232.8l2.25 2.25l-2.25 2.25l-2.25-2.25z"/><path d="M113.1 231.6l2.25 2.25l-2.25 2.25l-2.25-2.25z"/><path d="M123.5 235.7l2.25 2.25l-2.25 2.25l-2.25-2.25z"/><path d="M129.2 235.1l2.25 2.25l-2.25 2.25l-2.25-2.25z"/><path d="M131.5 236.8l2.25 2.25l-2.25 2.25l-2.25-2.25z"/><path d="M134.4 232.2l2.25 2.25l-2.25 2.25l-2.25-2.25z"/><path d="M135.6 233.9l2.25 2.25l-2.25 2.25l-2.25-2.25z"/><path d="M139.6 237.9l2.25 2.25l-2.25 2.25l-2.25-2.25z"/><path d="M137.3 238.6l2.25 2.25l-2.25 2.25l-2.25-2.25z"/><path d="M141.9 238.6l2.25 2.25l-2.25 2.25l-2.25-2.25z"/><path d="M147.7 230.4l2.25 2.25l-2.25 2.25l-2.25-2.25z"/><path d="M148.8 232.8l2.25 2.25l-2.25 2.25l-2.25-2.25z"/><path d="M146.5 236.8l2.25 2.25l-2.25 2.25l-2.25-2.25z"/><path d="M147.7 238.6l2.25 2.25l-2.25 2.25l-2.25-2.25z"/><path d="M159.8 235.1l2.25 2.25l-2.25 2.25l-2.25-2.25z"/><path d="M161.5 235.7l2.25 2.25l-2.25 2.25l-2.25-2.25z"/><path d="M157.5 240.2l2.25 2.25l-2.25 2.25l-2.25-2.25z"/><path d="M162.7 240.8l2.25 2.25l-2.25 2.25l-2.25-2.25z"/><path d="M117.1 238.6l2.25 2.25l-2.25 2.25l-2.25-2.25z"/><path d="M124 240.2l2.25 2.25l-2.25 2.25l-2.25-2.25z"/><path d="M129.8 244.8l2.25 2.25l-2.25 2.25l-2.25-2.25z"/><path d="M143.1 245.4l2.25 2.25l-2.25 2.25l-2.25-2.25z"/><path d="M155.8 243.8l2.25 2.25l-2.25 2.25l-2.25-2.25z"/><path d="M110.2 235.7l2.25 2.25l-2.25 2.25l-2.25-2.25z"/><path d="M136.2 247.3l2.25 2.25l-2.25 2.25l-2.25-2.25z"/><path d="M144.8 249.7l2.25 2.25l-2.25 2.25l-2.25-2.25z"/><path d="M163.3 249.1l2.25 2.25l-2.25 2.25l-2.25-2.25z"/><path d="M161.7 222.3l2.25 2.25l-2.25 2.25l-2.25-2.25z"/><path d="M166.9 224.1l2.25 2.25l-2.25 2.25l-2.25-2.25z"/><path d="M168.7 222.9l2.25 2.25l-2.25 2.25l-2.25-2.25z"/><path d="M183.1 222.9l2.25 2.25l-2.25 2.25l-2.25-2.25z"/><path d="M180.2 218.3l2.25 2.25l-2.25 2.25l-2.25-2.25z"/><path d="M206.2 220.7l2.25 2.25l-2.25 2.25l-2.25-2.25z"/><path d="M200.4 223.6l2.25 2.25l-2.25 2.25l-2.25-2.25z"/><path d="M199.2 225.2l2.25 2.25l-2.25 2.25l-2.25-2.25z"/><path d="M201 231.6l2.25 2.25l-2.25 2.25l-2.25-2.25z"/><path d="M213.1 222.3l2.25 2.25l-2.25 2.25l-2.25-2.25z"/><path d="M214.2 230.2l2.25 2.25l-2.25 2.25l-2.25-2.25z"/><path d="M173.3 232.8l2.25 2.25l-2.25 2.25l-2.25-2.25z"/><path d="M177.9 231.6l2.25 2.25l-2.25 2.25l-2.25-2.25z"/><path d="M180.8 230.4l2.25 2.25l-2.25 2.25l-2.25-2.25z"/><path d="M183.7 228.2l2.25 2.25l-2.25 2.25l-2.25-2.25z"/><path d="M190.6 226.9l2.25 2.25l-2.25 2.25l-2.25-2.25z"/><path d="M168.3 235.9l2.25 2.25l-2.25 2.25l-2.25-2.25z"/><path d="M165.2 232.8l2.25 2.25l-2.25 2.25l-2.25-2.25z"/><path d="M181.9 237.9l2.25 2.25l-2.25 2.25l-2.25-2.25z"/><path d="M188.3 236.8l2.25 2.25l-2.25 2.25l-2.25-2.25z"/><path d="M192.3 235.7l2.25 2.25l-2.25 2.25l-2.25-2.25z"/><path d="M165.2 244.8l2.25 2.25l-2.25 2.25l-2.25-2.25z"/><path d="M230.6 223.2l2.25 2.25l-2.25 2.25l-2.25-2.25z"/><path d="M227.1 226.9l2.25 2.25l-2.25 2.25l-2.25-2.25z"/><path d="M225.4 229.2l2.25 2.25l-2.25 2.25l-2.25-2.25z"/><path d="M241 225.2l2.25 2.25l-2.25 2.25l-2.25-2.25z"/><path d="M239.2 228.2l2.25 2.25l-2.25 2.25l-2.25-2.25z"/><path d="M250.5 226.4l2.25 2.25l-2.25 2.25l-2.25-2.25z"/><path d="M262.3 218.3l2.25 2.25l-2.25 2.25l-2.25-2.25z"/><path d="M271.5 236.8l2.25 2.25l-2.25 2.25l-2.25-2.25z"/><path d="M279.2 225.6l2.25 2.25l-2.25 2.25l-2.25-2.25z"/><path d="M290.5 227.6l2.25 2.25l-2.25 2.25l-2.25-2.25z"/><path d="M324 225.6l2.25 2.25l-2.25 2.25l-2.25-2.25z"/><path d="M290.2 238.6l2.25 2.25l-2.25 2.25l-2.25-2.25z"/><path d="M375.8 241.4l2.25 2.25l-2.25 2.25l-2.25-2.25z"/><path d="M381 244.6l2.25 2.25l-2.25 2.25l-2.25-2.25z"/></g>
<g fill="#e2001e"><rect x="288.6" y="156.8" width="3.6" height="3.6"/><rect x="381.8" y="142.4" width="3.6" height="3.6"/><rect x="127.5" y="171.1" width="3.6" height="3.6"/><rect x="200.9" y="181.6" width="3.6" height="3.6"/><rect x="177" y="187" width="3.6" height="3.6"/><rect x="251.1" y="163.1" width="3.6" height="3.6"/><rect x="354.2" y="160.5" width="3.6" height="3.6"/><rect x="378.5" y="161.1" width="3.6" height="3.6"/><rect x="350.1" y="165" width="3.6" height="3.6"/><rect x="330.3" y="187.6" width="3.6" height="3.6"/><rect x="67" y="222.6" width="3.6" height="3.6"/><rect x="79.9" y="218.4" width="3.6" height="3.6"/><rect x="91.3" y="222" width="3.6" height="3.6"/><rect x="134.2" y="220.4" width="3.6" height="3.6"/><rect x="225.1" y="207.5" width="3.6" height="3.6"/><rect x="230.3" y="209.7" width="3.6" height="3.6"/><rect x="253.9" y="221.7" width="3.6" height="3.6"/><rect x="277.9" y="217.5" width="3.6" height="3.6"/><rect x="301.6" y="222" width="3.6" height="3.6"/><rect x="321.2" y="221.7" width="3.6" height="3.6"/><rect x="369.8" y="222" width="3.6" height="3.6"/><rect x="344.5" y="222.3" width="3.6" height="3.6"/><rect x="332.9" y="222.6" width="3.6" height="3.6"/><rect x="66.9" y="258.1" width="3.6" height="3.6"/><rect x="78.8" y="243" width="3.6" height="3.6"/><rect x="97.3" y="244.2" width="3.6" height="3.6"/><rect x="91.9" y="249.5" width="3.6" height="3.6"/><rect x="97.3" y="249.2" width="3.6" height="3.6"/><rect x="114.4" y="248.6" width="3.6" height="3.6"/><rect x="116.1" y="254.6" width="3.6" height="3.6"/><rect x="115.5" y="240.5" width="3.6" height="3.6"/><rect x="139.5" y="230.7" width="3.6" height="3.6"/><rect x="121.1" y="232.6" width="3.6" height="3.6"/><rect x="150.5" y="237.2" width="3.6" height="3.6"/><rect x="132.6" y="247.6" width="3.6" height="3.6"/><rect x="136.9" y="255.7" width="3.6" height="3.6"/><rect x="150.7" y="247.6" width="3.6" height="3.6"/><rect x="151.7" y="256.8" width="3.6" height="3.6"/><rect x="162.6" y="258.2" width="3.6" height="3.6"/><rect x="194.2" y="228.6" width="3.6" height="3.6"/><rect x="205.5" y="228.6" width="3.6" height="3.6"/><rect x="204.9" y="235.5" width="3.6" height="3.6"/><rect x="168.8" y="229.7" width="3.6" height="3.6"/><rect x="181" y="236.4" width="3.6" height="3.6"/><rect x="175.5" y="245.3" width="3.6" height="3.6"/><rect x="187" y="243" width="3.6" height="3.6"/><rect x="212.4" y="247" width="3.6" height="3.6"/><rect x="260.5" y="226.9" width="3.6" height="3.6"/><rect x="239.2" y="232.6" width="3.6" height="3.6"/><rect x="228.8" y="234.9" width="3.6" height="3.6"/><rect x="234" y="241.3" width="3.6" height="3.6"/><rect x="224.7" y="244.7" width="3.6" height="3.6"/><rect x="253" y="236.1" width="3.6" height="3.6"/><rect x="252.4" y="242.2" width="3.6" height="3.6"/><rect x="258.2" y="240.1" width="3.6" height="3.6"/><rect x="260.5" y="242.4" width="3.6" height="3.6"/><rect x="263.4" y="236.7" width="3.6" height="3.6"/><rect x="272.6" y="234.4" width="3.6" height="3.6"/><rect x="284.9" y="231.8" width="3.6" height="3.6"/><rect x="291.3" y="231.1" width="3.6" height="3.6"/><rect x="295.3" y="235.3" width="3.6" height="3.6"/><rect x="309.2" y="229.4" width="3.6" height="3.6"/><rect x="324.7" y="228.4" width="3.6" height="3.6"/><rect x="321.3" y="231.1" width="3.6" height="3.6"/><rect x="319.5" y="235.7" width="3.6" height="3.6"/><rect x="288.7" y="237.2" width="3.6" height="3.6"/><rect x="309.2" y="240.7" width="3.6" height="3.6"/><rect x="312" y="239" width="3.6" height="3.6"/><rect x="293.8" y="242.7" width="3.6" height="3.6"/><rect x="343.7" y="228.4" width="3.6" height="3.6"/><rect x="360.1" y="230.7" width="3.6" height="3.6"/><rect x="363.8" y="233" width="3.6" height="3.6"/><rect x="368" y="228.8" width="3.6" height="3.6"/><rect x="329.9" y="239.2" width="3.6" height="3.6"/><rect x="342.8" y="241.9" width="3.6" height="3.6"/><rect x="348" y="244.7" width="3.6" height="3.6"/><rect x="356.7" y="243" width="3.6" height="3.6"/><rect x="379.5" y="239.5" width="3.6" height="3.6"/><rect x="378.6" y="247.6" width="3.6" height="3.6"/><rect x="169.3" y="250.1" width="3.6" height="3.6"/><rect x="174.4" y="258.9" width="3.6" height="3.6"/><rect x="194" y="258.2" width="3.6" height="3.6"/><rect x="210.8" y="259.8" width="3.6" height="3.6"/><rect x="228.6" y="259.8" width="3.6" height="3.6"/><rect x="247.7" y="260" width="3.6" height="3.6"/><rect x="259.1" y="260.5" width="3.6" height="3.6"/><rect x="270.6" y="260.5" width="3.6" height="3.6"/><rect x="292.4" y="252.4" width="3.6" height="3.6"/><rect x="291.3" y="259.8" width="3.6" height="3.6"/><rect x="307.4" y="260" width="3.6" height="3.6"/><rect x="316.2" y="250.6" width="3.6" height="3.6"/><rect x="326.6" y="259.4" width="3.6" height="3.6"/><rect x="334.4" y="252" width="3.6" height="3.6"/><rect x="344.8" y="256.6" width="3.6" height="3.6"/><rect x="351.7" y="254.7" width="3.6" height="3.6"/><rect x="370.9" y="253.1" width="3.6" height="3.6"/><rect x="374.4" y="260" width="3.6" height="3.6"/><rect x="356.8" y="260" width="3.6" height="3.6"/></g>
<polyline fill="none" stroke="#000" stroke-width="1.5" stroke-linejoin="round" points="68.7,251.1 84.2,244 93.9,239.1 100.4,235.9 116.6,231 132.8,227 148,221.3 166.2,215.2 182.4,210 198.6,205 214.8,198.6 230,192.3 244.2,187.4 260.4,180.9 276.6,174.3 292.8,169.2 308,164.7 317.3,162.3 326,159.7 343.3,157.1 360.6,155.4 383.7,152.8"/>
<polyline fill="none" stroke="#2949b8" stroke-width="1.5" stroke-linejoin="round" points="68.7,251.1 84.2,244 93.9,239.3 100.4,238.3 116.6,234.3 132.8,230.2 148,227.8 166.2,224.6 182.4,219.8 198.6,214.9 214.8,210 230,205.8 237.7,203.6 252.3,197.9 268.5,193.5 284.7,187.4 300,181.6 308.7,178.4 326,174.2 343.3,171.8 360.6,171 383.7,169"/>
<polyline fill="none" stroke="#e2001e" stroke-width="1.5" stroke-linejoin="round" points="68.7,238.8 100,241.6 120,243.5 140,245.1 160,245.5 180,245.1 200,243.5 215,241.5 250,240.6 270,240.5 300,240.2 320,239 330,239.3 345,240.8 360,242.5 383.5,246.8"/>
<text class="tt" x="223" y="305.8" text-anchor="middle" textLength="152.6" lengthAdjust="spacingAndGlyphs">Time from first transfusion (years)</text>
<text class="tt" style="font-size:9.2px" x="0" y="0" text-anchor="middle" textLength="68.4" lengthAdjust="spacingAndGlyphs" transform="translate(8.0,139) rotate(-90)">Ferritin (ng/mL)</text>
<circle cx="441.8" cy="47.6" r="1.7" fill="#000"/>
<path d="M441.8 55.9l2.3 2.3l-2.3 2.3l-2.3-2.3z" fill="#2949b8"/>
<rect x="440.2" y="67.3" width="3.2" height="3.2" fill="#e2001e"/>
<text class="lg" x="452.3" y="50.8" textLength="67.2" lengthAdjust="spacingAndGlyphs">Simple transfusion</text>
<text class="lg" x="451.9" y="61" textLength="64.1" lengthAdjust="spacingAndGlyphs">Manual exchange</text>
<text class="lg" x="453.1" y="71.7" textLength="15.2" lengthAdjust="spacingAndGlyphs">AET</text>
<text class="tt" x="420.7" y="153.1" textLength="83.8" lengthAdjust="spacingAndGlyphs">Simple transfusion</text>
<text class="tt" x="420.7" y="173.2" textLength="78.6" lengthAdjust="spacingAndGlyphs">Manual exchange</text>
<text class="tt" x="420.7" y="241.5" textLength="95.5" lengthAdjust="spacingAndGlyphs">Automated red blood</text>
<text class="tt" x="436.6" y="252.5" textLength="63.7" lengthAdjust="spacingAndGlyphs">cell exchange</text>
</svg>
</body></html>
